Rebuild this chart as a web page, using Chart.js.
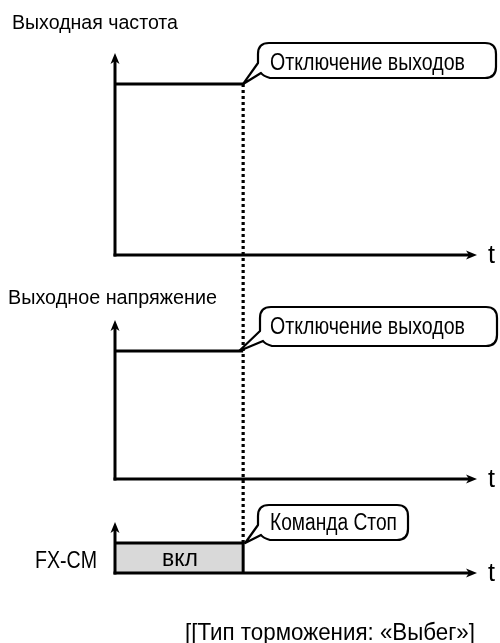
<!DOCTYPE html>
<html><head><meta charset="utf-8">
<script src="https://cdn.jsdelivr.net/npm/chart.js@4.4.1/dist/chart.umd.min.js"></script>
<style>
html,body{margin:0;padding:0;background:#fff;}
#wrap{position:relative;width:500px;height:643px;overflow:hidden;background:#fff;}
#wrap canvas{position:absolute;left:0;top:0;}
.lbl{position:absolute;white-space:nowrap;color:#000;line-height:1;transform-origin:0 0;}
</style></head><body>
<div id="wrap">
<canvas id="c1" width="500" height="643"></canvas>
<canvas id="c2" width="500" height="643"></canvas>
<canvas id="c3" width="500" height="643"></canvas>
</div>
<script>
// ---------- data ----------
const timeRange = [0, 100];
const stopTime = 35.4;
const freqTimes = [0, 35.4];
const freqValues = [1, 1];
const voltTimes = [0, 35.4];
const voltValues = [1, 1];
const cmdTimes = [0, 35.4, 35.4];
const cmdValues = [1, 1, 0];
const panelTitles = ['Выходная частота', 'Выходное напряжение'];
const calloutTexts = ['Отключение выходов', 'Отключение выходов', 'Команда Стоп'];
const signalLabel = 'FX-CM';
const onLabel = 'вкл';
const timeLabel = 't';
const caption = '[[Тип торможения: «Выбег»]';

// ---------- helpers ----------
function pts(xs, ys){ return xs.map((x,i)=>({x:x, y:ys[i]})); }

function arrowHead(ctx, x, y, dir){
  const L = 11, W = 4.5, N = 3;
  ctx.beginPath();
  if (dir === 'up'){
    ctx.moveTo(x, y); ctx.lineTo(x - W, y + L); ctx.lineTo(x, y + L - N); ctx.lineTo(x + W, y + L);
  } else {
    ctx.moveTo(x, y); ctx.lineTo(x - L, y - W); ctx.lineTo(x - L + N, y); ctx.lineTo(x - L, y + W);
  }
  ctx.closePath(); ctx.fill();
}

function drawCallout(ctx, box, tx, ty){
  const {l, t, r, b} = box, rad = 11;
  ctx.beginPath();
  ctx.moveTo(l + rad, t);
  ctx.lineTo(r - rad, t); ctx.quadraticCurveTo(r, t, r, t + rad);
  ctx.lineTo(r, b - rad); ctx.quadraticCurveTo(r, b, r - rad, b);
  ctx.lineTo(l + 12, b);
  ctx.quadraticCurveTo(l + 5, b - 2, l + 3, b - 5);
  ctx.lineTo(tx, ty);
  ctx.lineTo(l, b - 15);
  ctx.lineTo(l, t + rad); ctx.quadraticCurveTo(l, t, l + rad, t);
  ctx.closePath();
  ctx.fillStyle = '#fff'; ctx.fill();
  ctx.lineWidth = 2.2; ctx.strokeStyle = '#000'; ctx.lineJoin = 'round'; ctx.stroke();
}

const diagramPlugin = {
  id: 'diagram',
  afterDatasetsDraw(chart, args, opts){
    const {ctx, chartArea:{left, right, top, bottom}} = chart;
    const xs = chart.scales.x, ys = chart.scales.y;
    ctx.save();
    ctx.strokeStyle = '#000'; ctx.fillStyle = '#000'; ctx.lineWidth = 3; ctx.lineCap = 'butt';
    ctx.beginPath(); ctx.moveTo(left, bottom + 1.5); ctx.lineTo(left, top + 8); ctx.stroke();
    arrowHead(ctx, left, top, 'up');
    ctx.beginPath(); ctx.moveTo(left - 1.5, bottom); ctx.lineTo(right - 8, bottom); ctx.stroke();
    arrowHead(ctx, right, bottom, 'right');
    if (opts.box){
      drawCallout(ctx, opts.box, xs.getPixelForValue(stopTime) + (opts.tipDx || 0), ys.getPixelForValue(1) + (opts.tipDy || 0));
    }
    if (opts.dotted){
      const c1 = charts[0];
      const yTop = c1.scales.y.getPixelForValue(1);
      const yBot = ys.getPixelForValue(1);
      const xp = xs.getPixelForValue(stopTime);
      ctx.setLineDash([3, 3]); ctx.lineWidth = 3.2; ctx.strokeStyle = '#000';
      ctx.beginPath(); ctx.moveTo(xp, yTop); ctx.lineTo(xp, yBot); ctx.stroke();
      ctx.setLineDash([]);
    }
    ctx.restore();
  }
};

const charts = [];
function makeChart(id, data, yMax, pad, pluginOpts, fill){
  const cfg = {
    type: 'line',
    data: { datasets: [{
      data: data,
      borderColor: '#000',
      borderWidth: 3,
      pointRadius: 0,
      tension: 0,
      fill: fill ? 'origin' : false,
      backgroundColor: '#d9d9d9',
      borderCapStyle: 'butt',
      borderJoinStyle: 'miter',
      clip: false
    }]},
    options: {
      responsive: false,
      animation: false,
      events: [],
      layout: { padding: pad },
      scales: {
        x: { type: 'linear', min: timeRange[0], max: timeRange[1], display: false },
        y: { type: 'linear', min: 0, max: yMax, display: false }
      },
      plugins: { legend: {display: false}, tooltip: {enabled: false}, diagram: pluginOpts }
    },
    plugins: [diagramPlugin]
  };
  const ch = new Chart(document.getElementById(id), cfg);
  charts.push(ch);
  return ch;
}

makeChart('c1', pts(freqTimes, freqValues), 1.181, {left:115, right:23, top:53, bottom:388},
  {box: {l:258, t:43, r:496, b:78}});
makeChart('c2', pts(voltTimes, voltValues), 1.242, {left:115, right:23, top:320, bottom:164},
  {box: {l:260, t:307, r:497, b:346}, tipDx: -4});
makeChart('c3', pts(cmdTimes, cmdValues), 1.7, {left:115, right:23, top:522, bottom:70},
  {box: {l:258, t:505, r:408, b:540}, tipDx: 2, dotted: true}, true);

// ---------- text ----------
const NARROW = '"Liberation Sans Narrow","Liberation Sans",Arial,sans-serif';
const REG = '"Liberation Sans",Arial,sans-serif';
const labels = [
  {text: panelTitles[0], x: 12, y: 22, w: 166, size: 20.5, font: NARROW},
  {text: panelTitles[1], x: 8, y: 297, w: 209, size: 20.5, font: NARROW},
  {text: calloutTexts[0], x: 270, y: 62, w: 195, size: 23, font: NARROW},
  {text: calloutTexts[1], x: 270, y: 326, w: 195, size: 23, font: NARROW},
  {text: calloutTexts[2], x: 270, y: 522, w: 127, size: 23, font: NARROW},
  {text: signalLabel, x: 35, y: 560, w: 62, size: 24, font: NARROW},
  {text: onLabel, x: 162, y: 558, w: 36, size: 23, font: REG},
  {text: timeLabel, x: 488, y: 254, w: 7, size: 25, font: NARROW},
  {text: timeLabel, x: 488, y: 478, w: 7, size: 25, font: NARROW},
  {text: timeLabel, x: 488, y: 572, w: 7, size: 25, font: NARROW},
  {text: caption, x: 185, y: 632, w: 290, size: 24.5, font: NARROW}
];
const wrap = document.getElementById('wrap');
const els = labels.map(L => {
  const d = document.createElement('div');
  d.className = 'lbl';
  d.textContent = L.text;
  d.style.fontFamily = L.font;
  d.style.fontSize = L.size + 'px';
  d.style.left = L.x + 'px';
  d.style.top = (L.y - 0.4885 * L.size) + 'px';
  wrap.appendChild(d);
  return d;
});
function fit(){
  els.forEach((d, i) => {
    d.style.transform = 'none';
    const w = d.getBoundingClientRect().width;
    if (w > 0) d.style.transform = 'scaleX(' + (labels[i].w / w) + ')';
  });
}
fit();
if (document.fonts && document.fonts.ready) document.fonts.ready.then(fit);
</script>
</body></html>
